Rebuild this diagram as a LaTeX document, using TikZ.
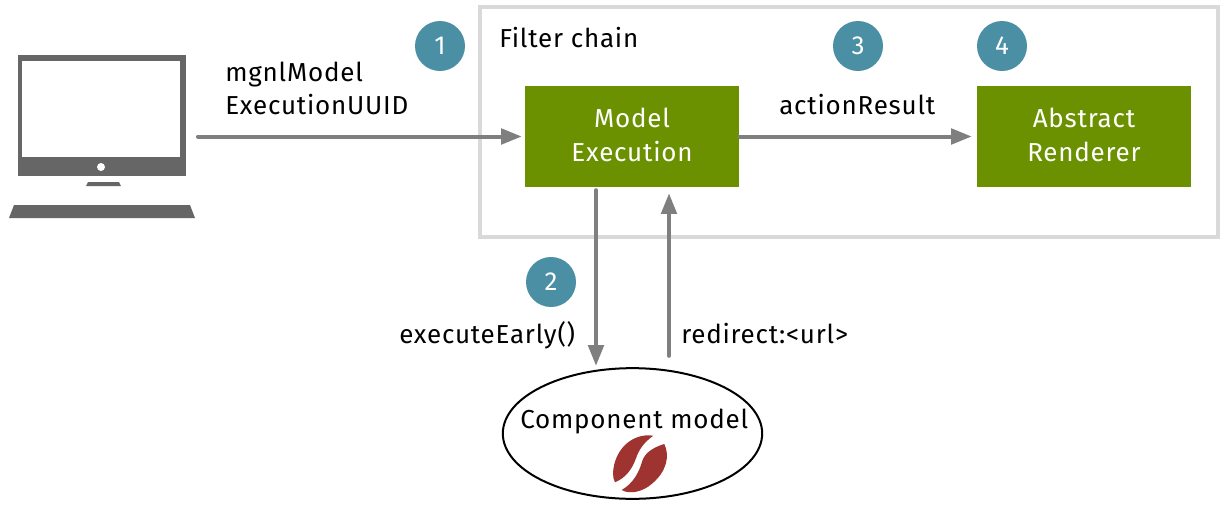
\documentclass[tikz,border=0pt]{standalone}
\usepackage{fontspec}
\setmainfont[LetterSpace=3]{Fira Sans}
\usetikzlibrary{arrows.meta,shapes.geometric}
\definecolor{boxgreen}{HTML}{6B9100}
\definecolor{badgeteal}{HTML}{4A8FA3}
\definecolor{arrowgray}{HTML}{7F7F7F}
\definecolor{pcgray}{HTML}{666666}
\definecolor{framegray}{HTML}{D9D9D9}
\definecolor{beanred}{HTML}{9E3330}
\tikzset{
  stagebox/.style={draw=none,fill=boxgreen,text=white,minimum width=160.5pt,minimum height=75.75pt,inner sep=0pt,align=center,text depth=3pt,font=\fontsize{19.5}{25.5}\selectfont},
  badge/.style={circle,fill=badgeteal,text=white,minimum size=37.5pt,inner sep=0pt,font=\fontsize{19.5}{24}\selectfont},
  lbl/.style={inner sep=0pt,anchor=base west,text=black,font=\fontsize{19.5}{24}\selectfont},
  arr/.style={draw=arrowgray,line width=3pt,line cap=round,-{Triangle[length=15.5pt,width=11.5pt]}},
  pcshape/.style={fill=pcgray,draw=none},
}
\begin{document}
\begin{tikzpicture}[x=0.75pt,y=-0.75pt]
\useasboundingbox (0,0) rectangle (1222,504);
% filter chain frame
\node[draw=framegray,line width=3.2pt,minimum width=553.5pt,minimum height=172.5pt,inner sep=0pt] (frame) at (849,122) {};
\node[lbl] (filterlbl) at (499,47) {Filter chain};
% stages
\node[stagebox] (model) at (632,136.5) {Model\\Execution};
\node[stagebox] (renderer) at (1084,136.5) {Abstract\\Renderer};
% computer
\node[minimum width=139.5pt,minimum height=122.25pt,inner sep=0pt] (pc) at (102,136.5) {};
\fill[pcshape] (18,55) rectangle (186,176);
\fill[white] (22,60.5) rectangle (180,157);
\fill[white] (101,167) circle (4);
\fill[pcshape] (88,182) -- (119,182) -- (121,186) -- (86,186) -- cycle;
\fill[pcshape] (14,205) -- (190,205) -- (195,218) -- (9,218) -- cycle;
% component model
\node[ellipse,draw=black,line width=1.5pt,minimum width=194.5pt,minimum height=98pt,inner sep=0pt] (comp) at (632.5,433.5) {};
\node[lbl] (complbl) at (520,428) {Component model};
\begin{scope}[shift={(605,430)},x=0.25pt,y=-0.25pt]
\fill[beanred] (145,17) .. controls (80,8) and (27,60) .. (24,130) .. controls (24,140) and (26,150) .. (30,157) .. controls (65,142) and (82,115) .. (93,85) .. controls (103,55) and (120,35) .. (145,17) -- cycle;
\fill[beanred] (178,42) .. controls (195,78) and (185,125) .. (140,162) .. controls (115,184) and (75,195) .. (50,180) .. controls (85,160) and (103,125) .. (111,95) .. controls (119,68) and (145,52) .. (178,42) -- cycle;
\end{scope}
% badges
\node[badge] (b1) at (440,46) {1};
\node[badge] (b3) at (858,46) {3};
\node[badge] (b4) at (1002,46) {4};
\node[badge] (b2) at (551,282) {2};
% labels
\node[lbl] (mg1) at (225,81) {mgnlModel};
\node[lbl] (mg2) at (225,114) {ExecutionUUID};
\node[lbl] (act) at (779,114) {actionResult};
\node[lbl] (ex) at (399,343) {executeEarly()};
\node[lbl] (red) at (681,343) {redirect:<url>};
% connectors
\draw[arr,shorten <=2pt,shorten >=2.2pt] (pc.east) -- (model.west);
\draw[arr,shorten >=3.7pt] (model.east) -- (renderer.west);
\coordinate (dn) at (596,0);
\coordinate (up) at (669,0);
\draw[arr,shorten <=2.2pt,shorten >=1pt] (model.south -| dn) -- (comp.north -| dn);
\draw[arr,shorten <=8.5pt,shorten >=4.5pt] (comp.north -| up) -- (model.south -| up);
\end{tikzpicture}
\end{document}
